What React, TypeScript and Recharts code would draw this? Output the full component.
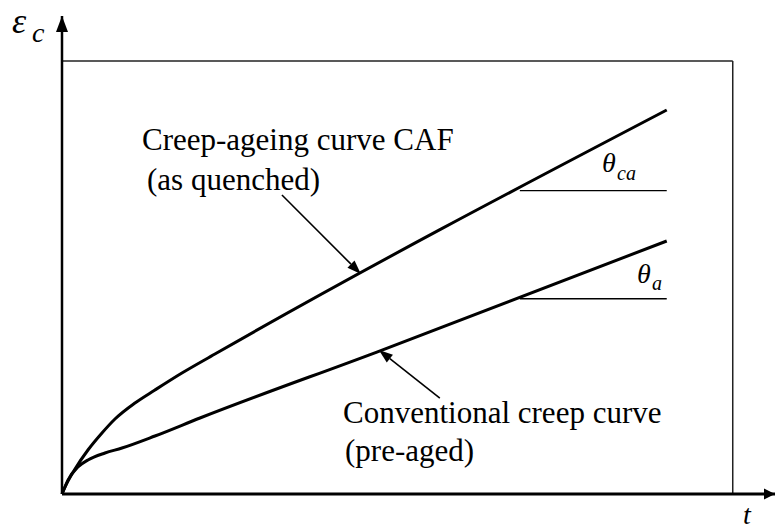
import React from "react";
import {
  LineChart,
  Line,
  XAxis,
  YAxis,
  ReferenceLine,
  ReferenceDot,
  Customized,
} from "recharts";

// creep-ageing curve (as quenched)
const creepAgeingT = [0, 0.45, 1.94, 3.87, 5.96, 7.9, 10.88, 13.86, 17.88, 22.8, 90.16];
const creepAgeingE = [0, 1.62, 5.77, 10.16, 14.09, 17.32, 21.02, 24.02, 27.94, 32.33, 88.68];

// conventional creep curve (pre-aged)
const conventionalT = [0, 0.45, 0.89, 2.38, 3.87, 6.41, 8.94, 13.86, 20.57, 46.94, 90.16];
const conventionalE = [0, 1.62, 3.23, 6.24, 7.85, 9.47, 10.62, 13.39, 17.55, 32.79, 58.43];

// slope reference lines (start t, end t, level)
const thetaCa = { t0: 68.26, t1: 90.16, e: 70.05 };
const thetaA = { t0: 68.26, t1: 90.16, e: 45.1 };

// callout arrows: tail -> tip
const calloutCaf = [
  { x: 32.79, y: 69.05 },
  { x: 44.56, y: 50.81 },
];
const calloutConv = [
  { x: 56.33, y: 22.17 },
  { x: 47.24, y: 33.26 },
];

const X_MAX = 106.3;
const Y_MAX = 110.4;
const BOX = 100;

const creepAgeing = creepAgeingT.map((t, i) => ({ t, e: creepAgeingE[i] }));
const conventional = conventionalT.map((t, i) => ({ t, e: conventionalE[i] }));

const SERIF = "'Liberation Serif', 'Times New Roman', serif";

const ArrowRight = (props: any) => {
  const { cx, cy } = props;
  return <path d={`M${cx},${cy} L${cx - 11},${cy - 5.5} L${cx - 11},${cy + 5.5} Z`} fill="#000" />;
};

const ArrowUp = (props: any) => {
  const { cx, cy } = props;
  return <path d={`M${cx},${cy} L${cx - 6},${cy + 16} L${cx + 6},${cy + 16} Z`} fill="#000" />;
};

const Callout = (props: any) => {
  const { x1, y1, x2, y2 } = props;
  const ang = Math.atan2(y2 - y1, x2 - x1);
  const len = 14;
  const w = 5;
  const bx = x2 - len * Math.cos(ang);
  const by = y2 - len * Math.sin(ang);
  const px = -Math.sin(ang) * w;
  const py = Math.cos(ang) * w;
  return (
    <g>
      <line x1={x1} y1={y1} x2={bx} y2={by} stroke="#000" strokeWidth={1.6} />
      <path d={`M${x2},${y2} L${bx + px},${by + py} L${bx - px},${by - py} Z`} fill="#000" />
    </g>
  );
};

const Labels = () => (
  <g fontFamily={SERIF} fill="#000">
    <text x={12} y={33} fontSize={36} fontStyle="italic">ε</text>
    <text x={32} y={42} fontSize={28} fontStyle="italic">c</text>
    <text x={743} y={524} fontSize={28} fontStyle="italic">t</text>

    <text x={142} y={150} fontSize={31}>Creep-ageing curve CAF</text>
    <text x={147} y={190} fontSize={31}>(as quenched)</text>
    <text x={343} y={423} fontSize={31}>Conventional creep curve</text>
    <text x={345} y={461} fontSize={31}>(pre-aged)</text>

    <text x={602} y={172} fontSize={28} fontStyle="italic">θ</text>
    <text x={617} y={180} fontSize={20} fontStyle="italic">ca</text>
    <text x={637} y={283} fontSize={28} fontStyle="italic">θ</text>
    <text x={652} y={290} fontSize={20} fontStyle="italic">a</text>
  </g>
);

export default function App() {
  return (
    <div style={{ position: "absolute", left: 0, top: 0, background: "#fff" }}>
      <LineChart
        width={775}
        height={531}
        margin={{ top: 16, right: 0, bottom: 37, left: 62 }}
      >
        <XAxis type="number" dataKey="t" domain={[0, X_MAX]} hide />
        <YAxis type="number" domain={[0, Y_MAX]} hide />

        {/* frame */}
        <ReferenceLine
          segment={[{ x: 0, y: BOX }, { x: BOX, y: BOX }]}
          stroke="#222"
          strokeWidth={1.5}
        />
        <ReferenceLine
          segment={[{ x: BOX, y: 0 }, { x: BOX, y: BOX }]}
          stroke="#222"
          strokeWidth={1.5}
        />

        {/* axes with arrows */}
        <ReferenceLine y={0} stroke="#000" strokeWidth={3} />
        <ReferenceLine x={0} stroke="#000" strokeWidth={2.5} />
        <ReferenceDot x={X_MAX} y={0} shape={ArrowRight} />
        <ReferenceDot x={0} y={Y_MAX} shape={ArrowUp} />

        {/* slope references */}
        <ReferenceLine
          segment={[{ x: thetaCa.t0, y: thetaCa.e }, { x: thetaCa.t1, y: thetaCa.e }]}
          stroke="#000"
          strokeWidth={1.3}
        />
        <ReferenceLine
          segment={[{ x: thetaA.t0, y: thetaA.e }, { x: thetaA.t1, y: thetaA.e }]}
          stroke="#000"
          strokeWidth={1.3}
        />

        <Line
          data={creepAgeing}
          dataKey="e"
          type="monotone"
          stroke="#000"
          strokeWidth={3}
          dot={false}
          isAnimationActive={false}
        />
        <Line
          data={conventional}
          dataKey="e"
          type="monotone"
          stroke="#000"
          strokeWidth={3}
          dot={false}
          isAnimationActive={false}
        />

        <ReferenceLine segment={calloutCaf} shape={Callout} />
        <ReferenceLine segment={calloutConv} shape={Callout} />

        <Customized component={<Labels />} />
      </LineChart>
    </div>
  );
}
